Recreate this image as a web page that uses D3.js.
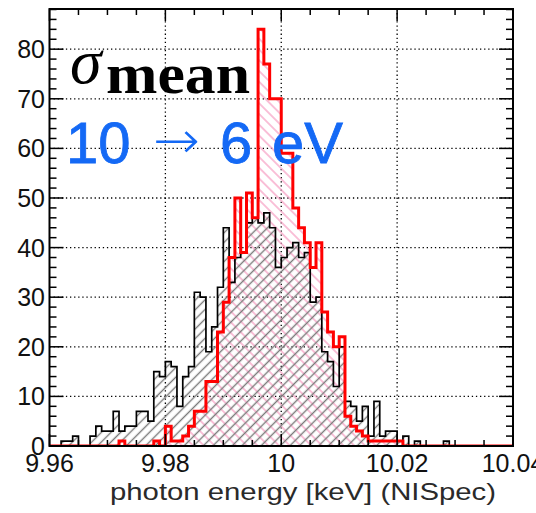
<!DOCTYPE html>
<html><head><meta charset="utf-8">
<script src="https://cdn.jsdelivr.net/npm/d3@7"></script>
<style>html,body{margin:0;padding:0;background:#fff;} svg{display:block}</style>
</head><body>
<script>
// ---- data ----
const xDomain = [9.96, 10.04];
const binWidth = 0.001;
const countsBefore = [0,0,1,1,2,0,0,2,4,3,
  3,7,3,4,4,7,7,5,15,14,
  17,16,8,14,16,31,30,19,24,32,
  44,33,38,39,45,46,45,47,44,36,
  38,40,41,38,39,29,30,19,17,12,
  20,9,8,5,8,2,9,2,3,3,
  1,2,0,1,0,0,0,0,1,0,
  0,0,0,0,0,0,0,0,0,0];
const countsAfter = [0,0,0,0,0,0,0,0,0,0,
  0,0,1,0,0,0,0,0,1,0,
  4,1,1,2,4,7,7,13,13,23,
  29,38,50,39,51,46,84,77,70,70,
  59,59,48,44,41,36,41,27,23,20,
  22,6,4,3,2,1,1,1,1,1,
  1,0,0,0,0,0,0,0,0,0,
  0,0,0,0,0,0,0,0,0,0];
const xMajorTicks = [9.96, 9.98, 10.00, 10.02, 10.04];
const xTickLabels = ["9.96", "9.98", "10", "10.02", "10.04"];
const yMajorTicks = [0, 10, 20, 30, 40, 50, 60, 70, 80];
const yTickLabels = ["0", "10", "20", "30", "40", "50", "60", "70", "80"];
const yMax = 88.1;
const xTitle = "photon energy [keV] (NISpec)";

// ---- layout ----
const W = 536, H = 513;
const P = {l: 49.5, r: 513, t: 9, b: 446};
const x = d3.scaleLinear().domain(xDomain).range([P.l, P.r]);
const y = d3.scaleLinear().domain([0, yMax]).range([P.b, P.t]);

const svg = d3.select("body").append("svg").attr("width", W).attr("height", H);
const defs = svg.append("defs");
defs.append("clipPath").attr("id", "clip").append("rect")
  .attr("x", P.l).attr("y", P.t).attr("width", P.r - P.l).attr("height", P.b - P.t);

function hatch(id, color, angle, gap, w) {
  const p = defs.append("pattern").attr("id", id).attr("patternUnits", "userSpaceOnUse")
    .attr("width", gap).attr("height", gap).attr("patternTransform", `rotate(${angle})`);
  p.append("line").attr("x1", gap / 2).attr("y1", -1).attr("x2", gap / 2).attr("y2", gap + 1)
    .attr("stroke", color).attr("stroke-width", w);
}
hatch("hGray", "#7a7a7a", 45, 6.8, 1.4);
hatch("hPink", "#f7a0c4", -45, 7.6, 1.3);

// grid
const grid = svg.append("g").attr("stroke", "#000").attr("stroke-width", 1.3)
  .attr("stroke-dasharray", "1.3,2.8");
yMajorTicks.filter(v => v > 0).forEach(v => {
  grid.append("line").attr("x1", P.l).attr("x2", P.r).attr("y1", y(v)).attr("y2", y(v));
});
xMajorTicks.slice(1, -1).forEach(v => {
  grid.append("line").attr("x1", x(v)).attr("x2", x(v)).attr("y1", P.t).attr("y2", P.b);
});

function stepPath(counts) {
  const p = d3.path();
  p.moveTo(x(xDomain[0]), y(0));
  counts.forEach((c, i) => {
    p.lineTo(x(xDomain[0] + i * binWidth), y(c));
    p.lineTo(x(xDomain[0] + (i + 1) * binWidth), y(c));
  });
  p.lineTo(x(xDomain[1]), y(0));
  return p.toString();
}

const g = svg.append("g").attr("clip-path", "url(#clip)");
g.append("path").attr("d", stepPath(countsAfter) + "Z").attr("fill", "url(#hPink)");
g.append("path").attr("d", stepPath(countsBefore) + "Z").attr("fill", "url(#hGray)");
g.append("path").attr("d", stepPath(countsBefore)).attr("fill", "none")
  .attr("stroke", "#000").attr("stroke-width", 1.7);
g.append("path").attr("d", stepPath(countsAfter)).attr("fill", "none")
  .attr("stroke", "#ff0000").attr("stroke-width", 3);

// ticks
const ticks = svg.append("g").attr("stroke", "#000").attr("stroke-width", 1.5);
d3.range(0, 17).forEach(k => {
  const v = xDomain[0] + k * 0.005;
  const major = k % 4 === 0;
  const L = major ? 12 : 6;
  ticks.append("line").attr("x1", x(v)).attr("x2", x(v)).attr("y1", P.b).attr("y2", P.b - L);
  ticks.append("line").attr("x1", x(v)).attr("x2", x(v)).attr("y1", P.t).attr("y2", P.t + L);
});
d3.range(0, 45).forEach(k => {
  const v = k * 2;
  if (v > yMax) return;
  const major = v % 10 === 0;
  const L = major ? 14 : 7;
  ticks.append("line").attr("x1", P.l).attr("x2", P.l + L).attr("y1", y(v)).attr("y2", y(v));
  ticks.append("line").attr("x1", P.r).attr("x2", P.r - L).attr("y1", y(v)).attr("y2", y(v));
});

// frame
svg.append("rect").attr("x", P.l).attr("y", P.t).attr("width", P.r - P.l).attr("height", P.b - P.t)
  .attr("fill", "none").attr("stroke", "#000").attr("stroke-width", 2);

// tick labels
const lab = svg.append("g").attr("font-family", "Liberation Sans, Arial, sans-serif")
  .attr("font-size", 25).attr("fill", "#111");
yMajorTicks.forEach((v, i) => {
  lab.append("text").attr("x", 45).attr("y", y(v)).attr("dy", "0.36em")
    .attr("text-anchor", "end").text(yTickLabels[i]);
});
xMajorTicks.forEach((v, i) => {
  lab.append("text").attr("x", x(v)).attr("y", 472)
    .attr("text-anchor", "middle").text(xTickLabels[i]);
});
svg.append("text").attr("x", 110).attr("y", 500)
  .attr("font-family", "Liberation Sans, Arial, sans-serif").attr("font-size", 24)
  .attr("fill", "#2a2a2a").attr("textLength", 386).attr("lengthAdjust", "spacingAndGlyphs")
  .text(xTitle);

// annotations
svg.append("text").attr("x", 70).attr("y", 83)
  .attr("font-family", "Liberation Serif, serif").attr("font-style", "italic")
  .attr("font-size", 64).attr("fill", "#000").text("σ");
svg.append("text").attr("x", 106).attr("y", 93)
  .attr("font-family", "Liberation Serif, serif").attr("font-weight", "bold")
  .attr("font-size", 58).attr("fill", "#000").attr("textLength", 144)
  .attr("lengthAdjust", "spacingAndGlyphs").text("mean");
const blue = "#1469f5";
const bt = svg.append("g").attr("font-family", "Liberation Sans, Arial, sans-serif")
  .attr("font-size", 58).attr("fill", blue).attr("stroke", blue).attr("stroke-width", 0.8);
bt.append("text").attr("x", 66).attr("y", 163).text("10");
bt.append("text").attr("x", 153).attr("y", 158).attr("font-family", "DejaVu Sans, sans-serif")
  .attr("font-weight", 200).attr("stroke-width", 0).attr("font-size", 52)
  .attr("textLength", 47).attr("lengthAdjust", "spacingAndGlyphs").text("→");
bt.append("text").attr("x", 220).attr("y", 163).text("6");
bt.append("text").attr("x", 272).attr("y", 163).text("eV");
</script>
</body></html>
